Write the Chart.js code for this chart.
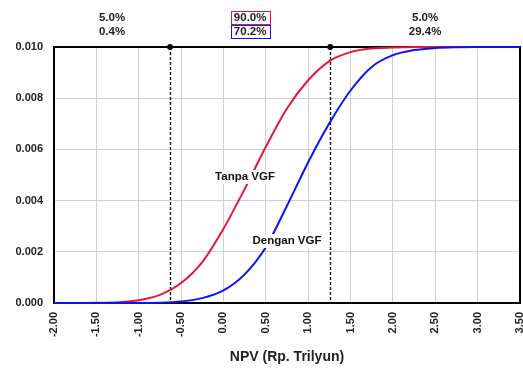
<!DOCTYPE html>
<html>
<head>
<meta charset="utf-8">
<script src="https://cdn.jsdelivr.net/npm/chart.js@4/dist/chart.umd.min.js"></script>
<style>
html,body{margin:0;padding:0;background:#fff;}
#wrap{width:523px;height:374px;position:relative;}
</style>
</head>
<body>
<div id="wrap"><canvas id="c" width="523" height="374"></canvas></div>
<script>
// NPV values (Rp. Trilyun) at which the cumulative curves were read
const npvX = [-2,-1.75,-1.5,-1.25,-1,-0.75,-0.5,-0.25,0,0.25,0.5,0.75,1,1.25,1.5,1.75,2,2.25,2.5,2.75,3,3.25,3.5];
// Cumulative probability (scaled) - Tanpa VGF
const tanpaVGF = [0,0,0.00001,0.00003,0.00011,0.00032,0.00078,0.0016,0.0029,0.00445,0.0061,0.0076,0.0087,0.00945,0.0098,0.00994,0.00998,0.01,0.01,0.01,0.01,0.01,0.01];
// Cumulative probability (scaled) - Dengan VGF
const denganVGF = [0,0,0,0,0,0.00001,0.00006,0.00019,0.00049,0.00112,0.00218,0.0038,0.0055,0.00702,0.0083,0.00922,0.00968,0.00988,0.00996,0.00999,0.01,0.01,0.01];
// Cut-off markers and region labels
const cutoffs = [-0.63, 1.26];
const regionTanpa = ["5.0%", "90.0%", "5.0%"];
const regionDengan = ["0.4%", "70.2%", "29.4%"];
const seriesNames = ["Tanpa VGF", "Dengan VGF"];
const xTicksMin = -2, xTicksMax = 3.5, xStep = 0.5;
const yMin = 0, yMax = 0.01, yStep = 0.002;

const RED = '#e5173f', BLUE = '#0a14f0';
const FONT = '"Liberation Sans", Arial, Helvetica, sans-serif';

function labelBox(ctx, text, cx, cy) {
  const w = ctx.measureText(text).width;
  ctx.fillStyle = '#fff';
  ctx.fillRect(cx - w / 2 - 2, cy - 7, w + 4, 14);
  ctx.fillStyle = '#111';
  ctx.fillText(text, cx, cy);
}

const overlay = {
  id: 'overlay',
  beforeDatasetsDraw(chart) {
    const {ctx, chartArea: a} = chart;
    ctx.save();
    ctx.strokeStyle = '#000';
    ctx.lineWidth = 2;
    ctx.strokeRect(a.left, a.top, a.right - a.left, a.bottom - a.top);
    const xs = chart.scales.x;
    ctx.setLineDash([3, 2]);
    ctx.lineWidth = 1.3;
    cutoffs.forEach(v => {
      const px = Math.round(xs.getPixelForValue(v)) + 0.5;
      ctx.beginPath();
      ctx.moveTo(px, a.top);
      ctx.lineTo(px, a.bottom);
      ctx.stroke();
    });
    ctx.restore();
  },
  afterDatasetsDraw(chart) {
    const {ctx, chartArea: a} = chart;
    const xs = chart.scales.x;
    ctx.save();
    ctx.fillStyle = '#000';
    const pxs = cutoffs.map(v => xs.getPixelForValue(v));
    pxs.forEach(px => {
      ctx.beginPath();
      ctx.arc(px, a.top, 3, 0, Math.PI * 2);
      ctx.fill();
    });
    const bounds = [a.left, ...pxs, a.right];
    ctx.font = 'bold 11.5px ' + FONT;
    ctx.textAlign = 'center';
    ctx.textBaseline = 'middle';
    for (let i = 0; i < 3; i++) {
      const cx = (bounds[i] + bounds[i + 1]) / 2;
      ctx.fillStyle = '#222';
      ctx.fillText(regionTanpa[i], cx, 18);
      ctx.fillText(regionDengan[i], cx, 32);
      if (i === 1) {
        const w1 = ctx.measureText(regionTanpa[i]).width + 6;
        const w2 = ctx.measureText(regionDengan[i]).width + 6;
        ctx.lineWidth = 1;
        ctx.strokeStyle = RED;
        ctx.strokeRect(Math.round(cx - w1 / 2) + 0.5, 11.5, Math.round(w1), 13);
        ctx.strokeStyle = BLUE;
        ctx.strokeRect(Math.round(cx - w2 / 2) + 0.5, 25.5, Math.round(w2), 13);
      }
    }
    ctx.font = 'bold 11.5px ' + FONT;
    labelBox(ctx, seriesNames[0], 245, 177);
    labelBox(ctx, seriesNames[1], 287, 241);
    ctx.restore();
  }
};

const ds = (arr) => npvX.map((x, i) => ({x: x, y: arr[i]}));

new Chart(document.getElementById('c'), {
  type: 'line',
  data: {
    datasets: [
      {label: seriesNames[0], data: ds(tanpaVGF), borderColor: RED, borderWidth: 2, pointRadius: 0, cubicInterpolationMode: 'monotone', fill: false, order: 1, clip: 4},
      {label: seriesNames[1], data: ds(denganVGF), borderColor: BLUE, borderWidth: 2, pointRadius: 0, cubicInterpolationMode: 'monotone', fill: false, order: 0, clip: 4}
    ]
  },
  options: {
    responsive: false,
    animation: false,
    devicePixelRatio: 1,
    layout: {padding: {top: 47, right: 3, left: 0, bottom: 0}},
    plugins: {legend: {display: false}, tooltip: {enabled: false}},
    scales: {
      x: {
        type: 'linear', min: xTicksMin, max: xTicksMax,
        afterFit(s) { s.height = 71; s.paddingRight = 0; s.paddingLeft = 0; },
        ticks: {stepSize: xStep, minRotation: 90, maxRotation: 90, padding: 9, autoSkip: false,
          color: '#222', font: {family: FONT, size: 11, weight: 'bold'},
          callback: v => Number(v).toFixed(2)},
        grid: {color: '#d0d0d0', lineWidth: 1, drawTicks: false},
        border: {display: false},
        title: {display: true, text: 'NPV (Rp. Trilyun)', color: '#222',
          font: {family: FONT, size: 14, weight: 'bold'}, padding: {top: 0, bottom: 8}}
      },
      y: {
        min: yMin, max: yMax,
        afterFit(s) { s.width = 54; s.paddingTop = 0; s.paddingBottom = 0; },
        ticks: {stepSize: yStep, padding: 11, color: '#222',
          font: {family: FONT, size: 11, weight: 'bold'},
          callback: v => Number(v).toFixed(3)},
        grid: {color: '#d0d0d0', lineWidth: 1, drawTicks: false},
        border: {display: false}
      }
    }
  },
  plugins: [overlay]
});
</script>
</body>
</html>
